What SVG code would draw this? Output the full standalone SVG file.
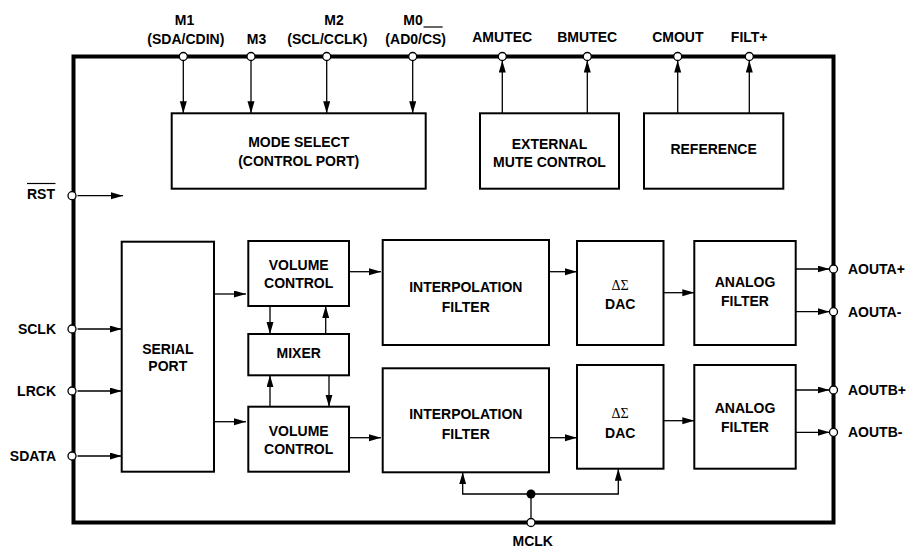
<svg xmlns="http://www.w3.org/2000/svg" width="907" height="549" viewBox="0 0 907 549">
<style>
.box{fill:#fff;stroke:#000;stroke-width:2}
.t{font-family:"Liberation Sans",Arial,sans-serif;font-weight:bold;font-size:14px;fill:#000}
.c{text-anchor:middle}
.e{text-anchor:end}
.g{font-family:"Liberation Serif","Times New Roman",serif;font-size:14px;fill:#000;text-anchor:middle}
.w{fill:none;stroke:#000;stroke-width:1.3}
.a{fill:none;stroke:#000;stroke-width:1.3;marker-end:url(#ah)}
.pin{fill:#fff;stroke:#000;stroke-width:1.3}
</style>
<defs>
<marker id="ah" markerUnits="userSpaceOnUse" markerWidth="12" markerHeight="8" refX="12" refY="3.5" orient="auto">
<path d="M0,0 L12,3.5 L0,7 z" fill="#000"/>
</marker>
</defs>
<rect width="907" height="549" fill="#fff"/>
<rect id="chip" x="73.5" y="56.5" width="760" height="466" fill="none" stroke="#000" stroke-width="4"/>

<g id="mode-select"><rect class="box" x="171.7" y="113.3" width="254" height="75.4"/>
<text class="t c" x="298.7" y="146.7">MODE SELECT</text><text class="t c" x="298.7" y="166">(CONTROL PORT)</text></g>
<g id="ext-mute"><rect class="box" x="480" y="113.3" width="139" height="75.4"/>
<text class="t c" x="549.5" y="149">EXTERNAL</text><text class="t c" x="549.5" y="166.7">MUTE CONTROL</text></g>
<g id="reference"><rect class="box" x="644" y="113.3" width="139.3" height="75.4"/>
<text class="t c" x="713.6" y="154">REFERENCE</text></g>
<g id="serial-port"><rect class="box" x="121.7" y="241.7" width="92.3" height="230"/>
<text class="t c" x="167.8" y="354">SERIAL</text><text class="t c" x="167.8" y="371">PORT</text></g>
<g id="vol-a"><rect class="box" x="248.3" y="241" width="100.7" height="65"/>
<text class="t c" x="298.7" y="270">VOLUME</text><text class="t c" x="298.7" y="288.3">CONTROL</text></g>
<g id="mixer"><rect class="box" x="248.3" y="334" width="100.7" height="41.3"/>
<text class="t c" x="298.7" y="358.3">MIXER</text></g>
<g id="vol-b"><rect class="box" x="248.3" y="406.7" width="100.7" height="65"/>
<text class="t c" x="298.7" y="436">VOLUME</text><text class="t c" x="298.7" y="454.3">CONTROL</text></g>
<g id="interp-a"><rect class="box" x="382.7" y="240" width="166.3" height="105"/>
<text class="t c" x="465.8" y="292.3">INTERPOLATION</text><text class="t c" x="465.8" y="311.5">FILTER</text></g>
<g id="interp-b"><rect class="box" x="382.7" y="368.3" width="166.3" height="104"/>
<text class="t c" x="465.8" y="419">INTERPOLATION</text><text class="t c" x="465.8" y="438.5">FILTER</text></g>
<g id="dac-a"><rect class="box" x="577" y="241" width="86.5" height="104"/>
<text class="g" x="620.2" y="290">ΔΣ</text><text class="t c" x="620.2" y="309">DAC</text></g>
<g id="dac-b"><rect class="box" x="577" y="365" width="86.5" height="103.7"/>
<text class="g" x="620.2" y="418">ΔΣ</text><text class="t c" x="620.2" y="437.5">DAC</text></g>
<g id="analog-a"><rect class="box" x="694.3" y="241" width="101.4" height="104"/>
<text class="t c" x="745" y="287.3">ANALOG</text><text class="t c" x="745" y="306">FILTER</text></g>
<g id="analog-b"><rect class="box" x="694.3" y="365" width="101.4" height="103.7"/>
<text class="t c" x="745" y="413.3">ANALOG</text><text class="t c" x="745" y="431.7">FILTER</text></g>

<g id="connectors">
<line class="a" x1="183.3" y1="60.5" x2="183.3" y2="113.3"/>
<line class="a" x1="251" y1="60.5" x2="251" y2="113.3"/>
<line class="a" x1="326.7" y1="60.5" x2="326.7" y2="113.3"/>
<line class="a" x1="412.7" y1="60.5" x2="412.7" y2="113.3"/>
<line class="a" x1="502.3" y1="113.3" x2="502.3" y2="60.5"/>
<line class="a" x1="587.3" y1="113.3" x2="587.3" y2="60.5"/>
<line class="a" x1="677.7" y1="113.3" x2="677.7" y2="60.5"/>
<line class="a" x1="749.3" y1="113.3" x2="749.3" y2="60.5"/>
<line class="a" x1="77.5" y1="195.7" x2="123" y2="195.7"/>
<line class="a" x1="77.5" y1="329" x2="121.7" y2="329"/>
<line class="a" x1="77.5" y1="391" x2="121.7" y2="391"/>
<line class="a" x1="77.5" y1="456" x2="121.7" y2="456"/>
<line class="a" x1="214" y1="294" x2="246" y2="294"/>
<line class="a" x1="214" y1="421.7" x2="246" y2="421.7"/>
<line class="a" x1="270" y1="306" x2="270" y2="334"/>
<line class="a" x1="325.7" y1="334" x2="325.7" y2="306"/>
<line class="a" x1="270" y1="406.7" x2="270" y2="375.3"/>
<line class="a" x1="329" y1="375.3" x2="329" y2="406.7"/>
<line class="a" x1="349" y1="271.7" x2="381" y2="271.7"/>
<line class="a" x1="349" y1="437.7" x2="381" y2="437.7"/>
<line class="a" x1="549" y1="271.7" x2="577" y2="271.7"/>
<line class="a" x1="549" y1="437.7" x2="577" y2="437.7"/>
<line class="a" x1="663.5" y1="292.7" x2="694.3" y2="292.7"/>
<line class="a" x1="663.5" y1="420.7" x2="694.3" y2="420.7"/>
<line class="a" x1="795.7" y1="269" x2="829.5" y2="269"/>
<line class="a" x1="795.7" y1="311.7" x2="829.5" y2="311.7"/>
<line class="a" x1="795.7" y1="390" x2="829.5" y2="390"/>
<line class="a" x1="795.7" y1="432.3" x2="829.5" y2="432.3"/>
<line class="w" x1="531" y1="494" x2="531" y2="518.5"/>
<polyline class="a" points="531,494 462.7,494 462.7,472.3"/>
<polyline class="a" points="531,494 618.3,494 618.3,468.7"/>
<circle cx="531" cy="494" r="4.5" fill="#000"/>
</g>

<g id="pins">
<circle class="pin" cx="183.3" cy="56.5" r="4"/>
<circle class="pin" cx="251" cy="56.5" r="4"/>
<circle class="pin" cx="326.7" cy="56.5" r="4"/>
<circle class="pin" cx="412.7" cy="56.5" r="4"/>
<circle class="pin" cx="502.3" cy="56.5" r="4"/>
<circle class="pin" cx="587.3" cy="56.5" r="4"/>
<circle class="pin" cx="677.7" cy="56.5" r="4"/>
<circle class="pin" cx="749.3" cy="56.5" r="4"/>
<circle class="pin" cx="72" cy="195.7" r="4"/>
<circle class="pin" cx="72" cy="329" r="4"/>
<circle class="pin" cx="72" cy="391" r="4"/>
<circle class="pin" cx="72" cy="456" r="4"/>
<circle class="pin" cx="833.5" cy="269" r="4"/>
<circle class="pin" cx="833.5" cy="311.7" r="4"/>
<circle class="pin" cx="833.5" cy="390" r="4"/>
<circle class="pin" cx="833.5" cy="432.3" r="4"/>
<circle class="pin" cx="531" cy="522.5" r="4"/>
</g>

<g id="labels">
<text class="t c" x="184.5" y="25">M1</text>
<text class="t c" x="185.8" y="44">(SDA/CDIN)</text>
<text class="t c" x="256.5" y="44">M3</text>
<text class="t c" x="334" y="25">M2</text>
<text class="t c" x="327.3" y="44">(SCL/CCLK)</text>
<text class="t c" x="413" y="25">M0</text>
<text class="t c" x="415.7" y="44">(AD0/CS)</text>
<line x1="423.5" y1="27" x2="442.7" y2="27" stroke="#000" stroke-width="1.2"/>
<text class="t c" x="502.2" y="42">AMUTEC</text>
<text class="t c" x="587.2" y="42">BMUTEC</text>
<text class="t c" x="677.8" y="42">CMOUT</text>
<text class="t c" x="749.2" y="42">FILT+</text>
<text class="t e" x="55" y="198.5">RST</text>
<line x1="27" y1="183.5" x2="55.5" y2="183.5" stroke="#000" stroke-width="1.2"/>
<text class="t e" x="56" y="334">SCLK</text>
<text class="t e" x="56" y="396">LRCK</text>
<text class="t e" x="56" y="461">SDATA</text>
<text class="t" x="848" y="274">AOUTA+</text>
<text class="t" x="848" y="316.7">AOUTA-</text>
<text class="t" x="848" y="395">AOUTB+</text>
<text class="t" x="848" y="437.3">AOUTB-</text>
<text class="t c" x="532.7" y="545.5">MCLK</text>
</g>
</svg>
